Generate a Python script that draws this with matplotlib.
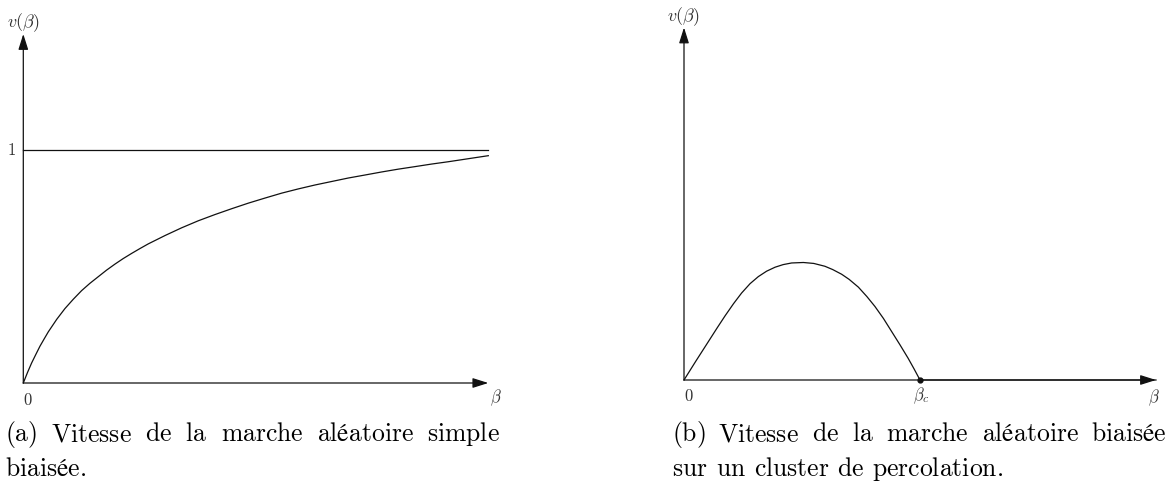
import matplotlib
matplotlib.use("Agg")
import matplotlib.pyplot as plt

plt.rcParams["mathtext.fontset"] = "cm"

# Panel (a): speed of the simple biased random walk
beta_a = [0, 0.09, 0.179, 0.27, 0.358, 0.45, 0.538, 0.72, 0.896, 1.075, 1.254,
          1.43, 1.613, 1.79, 1.971, 2.15, 2.33, 2.51, 2.688, 3.05, 3.405, 3.76,
          4.122, 4.48, 4.839, 5.2, 5.556, 5.91, 6.272, 6.63, 6.989, 7.35, 7.706,
          8.06, 8.423, 8.78, 9.14, 9.57, 10.0]
speed_a = [0, 0.045, 0.086, 0.123, 0.158, 0.190, 0.220, 0.274, 0.320, 0.360,
           0.397, 0.428, 0.457, 0.485, 0.511, 0.535, 0.557, 0.578, 0.598, 0.634,
           0.667, 0.697, 0.724, 0.749, 0.773, 0.795, 0.816, 0.834, 0.851, 0.866,
           0.881, 0.894, 0.907, 0.919, 0.930, 0.941, 0.951, 0.964, 0.977]
limit_a = 1.0

# Panel (b): speed of the biased walk on a percolation cluster
beta_b = [0, 0.05, 0.103, 0.14, 0.174, 0.21, 0.244, 0.28, 0.315, 0.35, 0.386,
          0.42, 0.456, 0.506, 0.55, 0.597, 0.63, 0.668, 0.70, 0.739, 0.775,
          0.809, 0.845, 0.880, 0.915, 0.950, 0.975, 1.0, 2.0]
speed_b = [0, 0.080, 0.163, 0.221, 0.273, 0.325, 0.370, 0.410, 0.440, 0.463,
           0.480, 0.491, 0.498, 0.500, 0.496, 0.484, 0.470, 0.450, 0.428, 0.395,
           0.355, 0.313, 0.262, 0.206, 0.150, 0.092, 0.047, 0, 0]
beta_c = 1.0

caption_a = ["(a) Vitesse de la marche aléatoire simple", "biaisée."]
caption_b = ["(b) Vitesse de la marche aléatoire biaisée",
             "sur un cluster de percolation."]

W, H = 1172, 482
fig = plt.figure(figsize=(W / 100, H / 100), dpi=100)


def px_axes(x0, y0, x1, y1):
    # axes rectangle given by pixel corners (origin at top-left)
    return fig.add_axes([x0 / W, 1 - y0 / H, (x1 - x0) / W, (y0 - y1) / H])


ink = "#111111"
lab = "#333333"
lw = 0.9
arrow = dict(arrowstyle="-|>,head_length=0.95,head_width=0.3", color=ink,
             lw=lw, shrinkA=0, shrinkB=0, mutation_scale=10)

# ---- panel (a)
ax = px_axes(23.3, 383, 488.3, 34)
ax.set_xlim(0, 10)
ax.set_ylim(0, 1.5)
ax.axis("off")
ax.annotate("", xy=(10, 0), xytext=(0, 0), arrowprops=arrow, annotation_clip=False)
ax.annotate("", xy=(0, 1.5), xytext=(0, 0), arrowprops=arrow, annotation_clip=False)
ax.plot([0, 10], [limit_a, limit_a], color=ink, lw=lw, clip_on=False)
ax.plot(beta_a, speed_a, color=ink, lw=lw, clip_on=False)
ax.text(0, 1.5, r"$v(\beta)$", ha="center", va="bottom", fontsize=13, color=lab,
        transform=ax.transData)
ax.annotate(r"$\beta$", xy=(10, 0), xytext=(2, -5), textcoords="offset pixels",
            ha="left", va="top", fontsize=12, color=lab, annotation_clip=False)
ax.annotate(r"$0$", xy=(0, 0), xytext=(0, -8), textcoords="offset pixels",
            ha="left", va="top", fontsize=12, color=lab, annotation_clip=False)
ax.annotate(r"$1$", xy=(0, limit_a), xytext=(-7, 0), textcoords="offset pixels",
            ha="right", va="center", fontsize=12, color=lab, annotation_clip=False)

# ---- panel (b)
bx = px_axes(684, 380, 1156, 27.5)
bx.set_xlim(0, 2)
bx.set_ylim(0, 1.5)
bx.axis("off")
bx.annotate("", xy=(2, 0), xytext=(0, 0), arrowprops=arrow, annotation_clip=False)
bx.annotate("", xy=(0, 1.5), xytext=(0, 0), arrowprops=arrow, annotation_clip=False)
bx.plot(beta_b, speed_b, color=ink, lw=lw, clip_on=False)
bx.plot([beta_c], [0], "o", color=ink, ms=3.5, clip_on=False)
bx.text(0, 1.5, r"$v(\beta)$", ha="center", va="bottom", fontsize=13, color=lab,
        transform=bx.transData)
bx.annotate(r"$\beta$", xy=(2, 0), xytext=(-2, -7), textcoords="offset pixels",
            ha="center", va="top", fontsize=12, color=lab, annotation_clip=False)
bx.annotate(r"$0$", xy=(0, 0), xytext=(0, -7), textcoords="offset pixels",
            ha="left", va="top", fontsize=12, color=lab, annotation_clip=False)
bx.annotate(r"$\beta_c$", xy=(beta_c, 0), xytext=(1, -5), textcoords="offset pixels",
            ha="center", va="top", fontsize=12, color=lab, annotation_clip=False)

# ---- captions (first line justified, second line ragged)
renderer = fig.canvas.get_renderer()
cap_size = 18.5
space_px = 8.0


def word_text(x, y, word):
    return fig.text(x / W, 1 - y / H, r"$\mathrm{" + word + "}$", fontsize=cap_size,
                    color="black", ha="left", va="baseline")


def caption_line(x0, y, line, width=None):
    words = line.split(" ")
    texts = [word_text(x0, y, w) for w in words]
    widths = [t.get_window_extent(renderer).width for t in texts]
    if width is None:
        gap = space_px
    else:
        gap = (width - sum(widths)) / (len(words) - 1)
    x = x0
    for t, w in zip(texts, widths):
        t.set_x(x / W)
        x += w + gap


caption_line(5, 441, caption_a[0], width=495)
caption_line(5, 476, caption_a[1])
caption_line(672, 441, caption_b[0], width=495)
caption_line(672, 476, caption_b[1])

fig.savefig("out.png", dpi=100, facecolor="white")
